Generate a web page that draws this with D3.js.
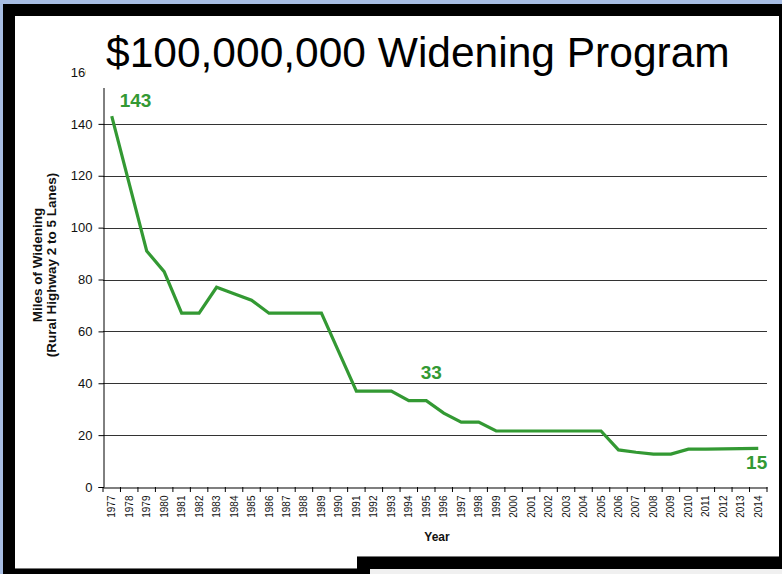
<!DOCTYPE html>
<html>
<head>
<meta charset="utf-8">
<script src="https://cdn.jsdelivr.net/npm/d3@7"></script>
<style>
  html, body { margin: 0; padding: 0; background: #a7bde3; }
  svg { display: block; }
  text { font-family: Arial, "Liberation Sans", sans-serif; }
</style>
</head>
<body>
<svg id="chart" width="782" height="574"></svg>
<script>
const years = d3.range(1977, 2015).map(String);
const miles = [143,117,91,83,67,67,77,74.5,72,67,67,67,67,52,37,37,37,33.3,33.3,28.5,25,25,
               21.6,21.6,21.6,21.6,21.6,21.6,21.6,14.3,13.4,12.7,12.7,14.6,14.6,14.7,14.8,14.9];
const yTicks = [0,20,40,60,80,100,120,140,160];
const labelYears = ["1977","1995","2014"];
const labelTexts = ["143","33","15"];
const titleText = "$100,000,000 Widening Program";

const green = "#339933";
const svg = d3.select("#chart");

// frame
svg.append("rect").attr("x",3).attr("y",4).attr("width",779).attr("height",570).attr("fill","#000");
svg.append("rect").attr("x",15).attr("y",16).attr("width",764).attr("height",553).attr("fill","#fff");
svg.append("rect").attr("x",357).attr("y",557).attr("width",425).attr("height",12).attr("fill","#000");
svg.append("line").attr("x1",15).attr("x2",357).attr("y1",568.5).attr("y2",568.5).attr("stroke","#777");
svg.append("line").attr("x1",357).attr("x2",779).attr("y1",556.5).attr("y2",556.5).attr("stroke","#777");
svg.append("rect").attr("x",370).attr("y",569).attr("width",412).attr("height",5).attr("fill","#f0f0f0");

const x = d3.scaleBand().domain(years).range([103, 767]).padding(0);
const y = d3.scaleLinear().domain([0,160]).range([487, 72]);

// gridlines
svg.append("g").selectAll("line").data(yTicks.filter(d => d > 0)).join("line")
  .attr("x1", 103).attr("x2", 767)
  .attr("y1", d => Math.round(y(d)) + 0.5).attr("y2", d => Math.round(y(d)) + 0.5)
  .attr("stroke", "#333").attr("stroke-width", 1);

// y axis
const yAxis = svg.append("g").attr("transform","translate(103.5,0)")
  .call(d3.axisLeft(y).tickValues(yTicks).tickSize(5).tickPadding(6).tickFormat(d3.format("d")));
yAxis.select(".domain").attr("stroke","#000");
yAxis.selectAll(".tick line").attr("stroke","#000");
yAxis.selectAll("text").attr("font-size", 13).attr("fill","#111")
  .attr("font-family","Arial, 'Liberation Sans', sans-serif");

// x axis
const xAxis = svg.append("g").attr("transform","translate(0,487.5)")
  .call(d3.axisBottom(x).tickSize(0).tickPadding(0));
xAxis.select(".domain").attr("stroke","#000").attr("stroke-width",1.2);
xAxis.selectAll(".tick line").remove();
xAxis.selectAll(".tick text")
  .attr("font-size", 10).attr("fill","#111")
  .attr("font-family","Arial, 'Liberation Sans', sans-serif")
  .attr("text-anchor","end")
  .attr("transform","rotate(-90)")
  .attr("x", -8).attr("y", 0).attr("dy","0.35em");
// band-boundary ticks
svg.append("g").selectAll("line").data(years.concat(["end"])).join("line")
  .attr("x1", d => d === "end" ? 767 : x(d)).attr("x2", d => d === "end" ? 767 : x(d))
  .attr("y1", 487).attr("y2", 492).attr("stroke","#000");

// line
const line = d3.line().x((d,i) => x(years[i]) + x.bandwidth()/2).y(d => y(d));
svg.append("path").datum(miles).attr("d", line)
  .attr("fill","none").attr("stroke", green).attr("stroke-width", 3.2).attr("stroke-linejoin","miter");

// value annotations
const offs = [{dx: 8, dy: -9, anchor: "start"}, {dx: 5, dy: -22, anchor: "middle"}, {dx: 9, dy: 21, anchor: "end"}];
labelYears.forEach((yr, k) => {
  const i = years.indexOf(yr);
  const cx = x(yr) + x.bandwidth()/2;
  svg.append("text").attr("x", cx + offs[k].dx).attr("y", y(miles[i]) + offs[k].dy)
    .attr("text-anchor", offs[k].anchor).attr("font-size", 19).attr("font-weight","bold")
    .attr("fill", green).text(labelTexts[k]);
});

// axis titles
svg.append("text").attr("x", 437).attr("y", 541).attr("text-anchor","middle")
  .attr("font-size", 12).attr("font-weight","bold").attr("fill","#111").text("Year");
const yt = svg.append("text").attr("transform","translate(42,265) rotate(-90)")
  .attr("text-anchor","middle").attr("font-size", 13.5).attr("font-weight","bold").attr("fill","#111");
yt.append("tspan").attr("x",0).attr("dy",0).text("Miles of Widening");
yt.append("tspan").attr("x",0).attr("dy",13.5).text("(Rural Highway 2 to 5 Lanes)");

// title box (covers top of axis)
svg.append("rect").attr("x",86).attr("y",16).attr("width",693).attr("height",72).attr("fill","#fff");
svg.append("text").attr("x",106).attr("y",67).attr("font-size",42.5).attr("fill","#000").text(titleText);
</script>
</body>
</html>
